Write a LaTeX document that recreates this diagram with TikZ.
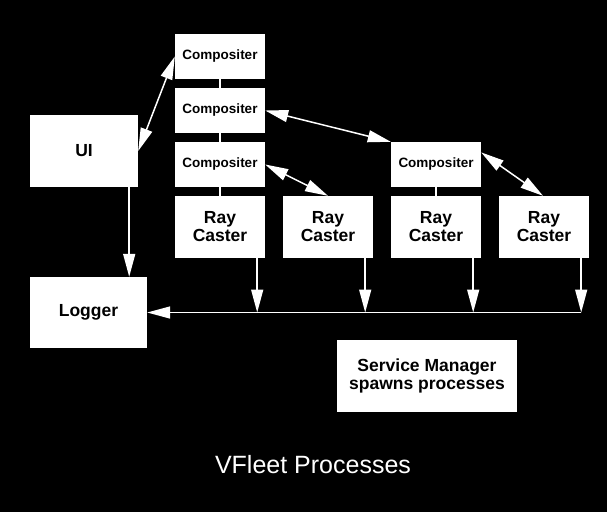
\documentclass[tikz,border=0pt]{standalone}
\usepackage{fontspec}
\setmainfont{Liberation Sans}
\usetikzlibrary{arrows.meta}

\begin{document}
\begin{tikzpicture}[x=1pt,y=-1pt,
  box/.style={fill=white,text=black,inner sep=0pt,align=center,
    font=\bfseries\fontsize{17.5}{18}\selectfont},
  comp/.style={box,minimum width=90pt,minimum height=45pt,
    font=\bfseries\fontsize{13.5}{14}\selectfont},
  caster/.style={box,minimum width=90pt,minimum height=62pt},
  stub/.style={white,line width=2.5pt},
  wire/.style={white,line width=1.5pt,-{Triangle[length=23pt,width=12pt]}},
  both/.style={white,line width=1.5pt,
    {Triangle[length=23pt,width=12pt]}-{Triangle[length=23pt,width=12pt]}}]
\fill[black] (0,0) rectangle (607,512);
\useasboundingbox (0,0) rectangle (607,512);

\node[box,minimum width=108pt,minimum height=72pt] (ui) at (84,151) {UI};
\node[box,minimum width=117pt,minimum height=71pt] (logger) at (88.5,312.5) {Logger};

\node[comp] (comp1) at (220,56.5) {Compositer};
\node[comp] (comp2) at (220,110.5) {Compositer};
\node[comp] (comp3) at (220,164.5) {Compositer};
\node[comp] (comp4) at (436,164.5) {Compositer};

\node[caster] (rc1) at (220,227) {Ray\\Caster};
\node[caster] (rc2) at (328,227) {Ray\\Caster};
\node[caster] (rc3) at (436,227) {Ray\\Caster};
\node[caster] (rc4) at (544,227) {Ray\\Caster};

\node[box,minimum width=180pt,minimum height=72pt] (manager) at (427,376)
  {Service Manager\\spawns processes};

\node[white,font=\fontsize{25}{25}\selectfont] (title) at (313,465) {VFleet Processes};

% links in the compositing tree
\draw[stub] (comp1.south) -- (comp2.north);
\draw[stub] (comp2.south) -- (comp3.north);
\draw[stub] (comp3.south) -- (rc1.north);
\draw[stub] (comp4.south) -- (rc3.north);

\draw[both] (ui.east) -- (comp1.west);
\draw[both] (comp2.east) -- (comp4.north west);
\draw[both] (comp3.east) -- (rc2.north);
\draw[both] (comp4.15) -- ([xshift=-1pt]rc4.north);

% log messages
\draw[wire] ([xshift=-9pt]ui.south east) -- ([xshift=-9pt]ui.south east |- logger.north);
\coordinate (bus) at ([xshift=-8pt]rc4.south east |- logger.east);
\draw[wire] ([xshift=-8pt]rc1.south east) -- ([xshift=-8pt]rc1.south east |- bus);
\draw[wire] ([xshift=-8pt]rc2.south east) -- ([xshift=-8pt]rc2.south east |- bus);
\draw[wire] ([xshift=-8pt]rc3.south east) -- ([xshift=-8pt]rc3.south east |- bus);
\draw[wire] ([xshift=-8pt]rc4.south east) -- (bus);
\draw[wire] (bus) -- (logger.east);
\end{tikzpicture}
\end{document}
